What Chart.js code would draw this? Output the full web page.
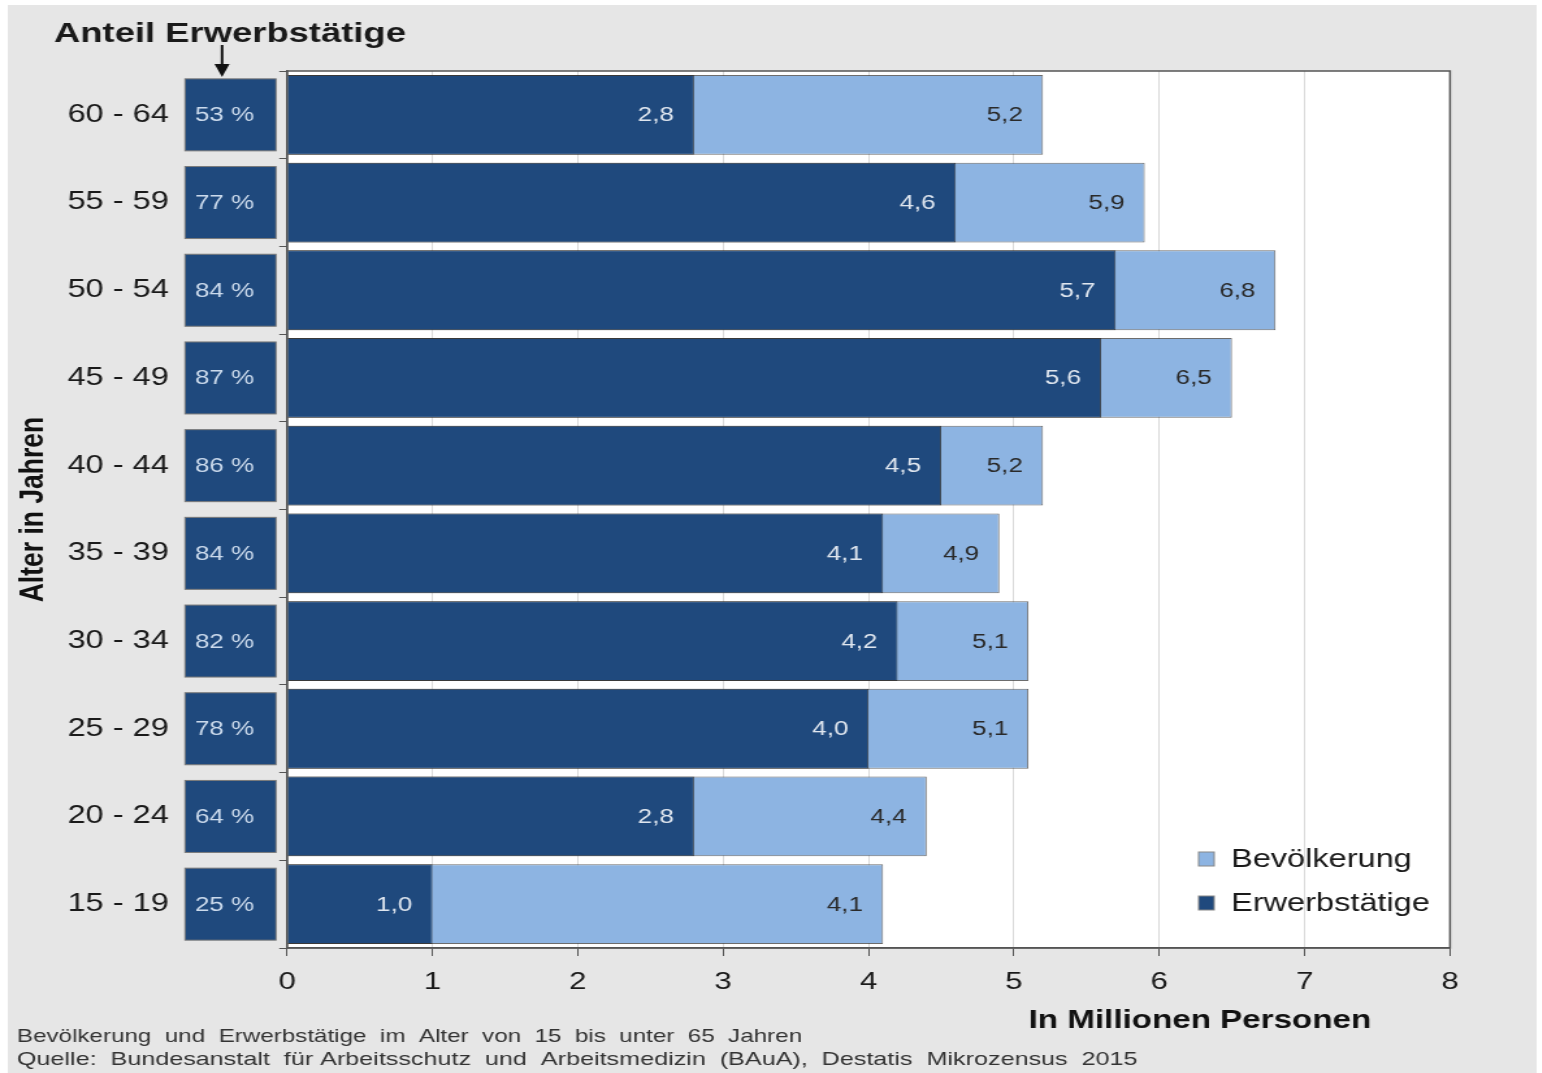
<!DOCTYPE html>
<html lang="de">
<head>
    <meta charset="UTF-8">
    <title>Anteil Erwerbstätige nach Alter</title>
    <script src="https://cdn.jsdelivr.net/npm/chart.js"></script>
    <style>
        body {
            margin: 0;
            background: white;
            overflow: hidden;
        }
        /* the source picture is stretched sideways, so the chart is drawn narrower and scaled */
        #wrap {
            position: absolute;
            left: 0;
            top: 0;
            width: 1186px;
            height: 1073px;
            transform: scaleX(1.3);
            transform-origin: 0 0;
        }
    </style>
</head>
<body>
    <div id="wrap"><canvas id="ageChart"></canvas></div>

    <script>
    const ageGroups = ['60 - 64', '55 - 59', '50 - 54', '45 - 49', '40 - 44', '35 - 39', '30 - 34', '25 - 29', '20 - 24', '15 - 19'];
    const erwerbstaetige = [2.8, 4.6, 5.7, 5.6, 4.5, 4.1, 4.2, 4.0, 2.8, 1.0];
    const bevoelkerung = [5.2, 5.9, 6.8, 6.5, 5.2, 4.9, 5.1, 5.1, 4.4, 4.1];
    const anteil = [53, 77, 84, 87, 86, 84, 82, 78, 64, 25];
    const xTicks = [0, 1, 2, 3, 4, 5, 6, 7, 8];

    const dark = '#1f497d';
    const light = '#8db4e2';
    const fontFamily = "'Liberation Sans', Arial, sans-serif";

    const fmt = v => v.toFixed(1).replace('.', ',');

    // draw a line of text squeezed or widened to a given width
    function fitText(ctx, txt, x, y, width) {
        const w = ctx.measureText(txt).width;
        ctx.save();
        ctx.translate(x, y);
        ctx.scale(width / w, 1);
        ctx.fillText(txt, 0, 0);
        ctx.restore();
    }

    const deco = {
        id: 'deco',
        beforeDraw(chart) {
            const { ctx, chartArea: a } = chart;
            ctx.save();
            ctx.fillStyle = '#e6e6e6';
            ctx.fillRect(6, 5, 1176, 1068);
            ctx.fillStyle = '#ffffff';
            ctx.fillRect(a.left, a.top, a.right - a.left, a.bottom - a.top);
            ctx.restore();
        },
        afterDatasetsDraw(chart) {
            const ctx = chart.ctx;
            ctx.save();
            ctx.font = '20px ' + fontFamily;
            ctx.textAlign = 'right';
            ctx.textBaseline = 'middle';
            // values at the end of each bar
            chart.getDatasetMeta(1).data.forEach((el, i) => {
                ctx.fillStyle = '#2a2a2a';
                ctx.fillText(fmt(bevoelkerung[i]), el.x - 15.5, el.y + 1);
            });
            chart.getDatasetMeta(0).data.forEach((el, i) => {
                ctx.fillStyle = '#dfe6ef';
                ctx.fillText(fmt(erwerbstaetige[i]), el.x - 15.5, el.y + 1);
            });
            ctx.restore();
        },
        afterDraw(chart) {
            const { ctx, chartArea: a } = chart;
            const y = chart.scales.y;
            ctx.save();

            // frame round the plot
            ctx.strokeStyle = '#555';
            ctx.lineWidth = 1.5;
            ctx.strokeRect(a.left, a.top, a.right - a.left, a.bottom - a.top);

            // share boxes left of the axis
            ctx.font = '20px ' + fontFamily;
            ctx.textAlign = 'left';
            ctx.textBaseline = 'middle';
            anteil.forEach((v, i) => {
                const yc = y.getPixelForValue(i);
                ctx.fillStyle = dark;
                ctx.fillRect(142.3, yc - 36, 70, 72);
                ctx.strokeStyle = '#7a7a7a';
                ctx.lineWidth = 1;
                ctx.strokeRect(142.3, yc - 36, 70, 72);
                ctx.fillStyle = '#cbdaec';
                ctx.fillText(v + ' %', 150, yc + 1);
            });

            // heading and arrow
            ctx.fillStyle = '#1a1a1a';
            ctx.font = 'bold 28px ' + fontFamily;
            ctx.fillText('Anteil Erwerbstätige', 41.5, 34);
            ctx.strokeStyle = '#111';
            ctx.lineWidth = 2;
            ctx.beginPath();
            ctx.moveTo(170.8, 45);
            ctx.lineTo(170.8, 66);
            ctx.stroke();
            ctx.fillStyle = '#111';
            ctx.beginPath();
            ctx.moveTo(165, 64);
            ctx.lineTo(176.6, 64);
            ctx.lineTo(170.8, 77);
            ctx.closePath();
            ctx.fill();

            // legend inside the plot
            const legendItems = [['Bevölkerung', light, 859], ['Erwerbstätige', dark, 903]];
            ctx.font = '25px ' + fontFamily;
            legendItems.forEach(([txt, col, ly]) => {
                ctx.fillStyle = col;
                ctx.fillRect(922, ly - 7, 12, 14);
                ctx.strokeStyle = '#888';
                ctx.lineWidth = 1;
                ctx.strokeRect(922, ly - 7, 12, 14);
                ctx.fillStyle = '#1a1a1a';
                ctx.fillText(txt, 947, ly + 1);
            });

            // x axis title
            ctx.font = 'bold 25.5px ' + fontFamily;
            ctx.textAlign = 'center';
            ctx.fillStyle = '#111';
            ctx.fillText('In Millionen Personen', 923, 1021);

            // footnote
            ctx.textAlign = 'left';
            ctx.font = '18.5px ' + fontFamily;
            ctx.fillStyle = '#333';
            fitText(ctx, 'Bevölkerung  und  Erwerbstätige  im  Alter  von  15  bis  unter  65  Jahren', 13, 1037, 604);
            fitText(ctx, 'Quelle:  Bundesanstalt  für Arbeitsschutz  und  Arbeitsmedizin  (BAuA),  Destatis  Mikrozensus  2015', 13, 1060, 862);

            ctx.restore();
        }
    };

    const ctx = document.getElementById('ageChart').getContext('2d');
    new Chart(ctx, {
        type: 'bar',
        data: {
            labels: ageGroups,
            datasets: [{
                label: 'Erwerbstätige',
                data: erwerbstaetige,
                backgroundColor: dark,
                borderColor: 'rgba(40, 40, 40, 0.75)',
                borderWidth: 1,
                order: 0
            }, {
                label: 'Bevölkerung',
                data: bevoelkerung,
                backgroundColor: light,
                borderColor: 'rgba(60, 60, 60, 0.75)',
                borderWidth: 1,
                order: 1
            }]
        },
        options: {
            indexAxis: 'y',
            responsive: true,
            maintainAspectRatio: false,
            animation: false,
            categoryPercentage: 0.91,
            barPercentage: 1.0,
            layout: {
                padding: { left: 6, top: 71, right: 70.6, bottom: 0 }
            },
            plugins: {
                legend: { display: false },
                tooltip: { enabled: false }
            },
            scales: {
                x: {
                    min: 0,
                    max: 8,
                    afterBuildTicks: s => { s.ticks = xTicks.map(v => ({ value: v })); },
                    afterFit: s => { s.height = 125; },
                    ticks: {
                        color: '#1a1a1a',
                        padding: 12,
                        font: { size: 24, family: fontFamily }
                    },
                    grid: {
                        color: '#dadada',
                        tickColor: '#555',
                        tickLength: 8
                    },
                    border: { color: '#555', width: 1.5 }
                },
                y: {
                    stacked: true,
                    // fixed width; the big label padding must not push the plot down
                    afterFit: s => { s.width = 214.8; s.paddingTop = 0; s.paddingBottom = 0; },
                    ticks: {
                        color: '#1a1a1a',
                        padding: 85,
                        font: { size: 25, family: fontFamily }
                    },
                    grid: {
                        offset: true,
                        drawOnChartArea: false,
                        tickColor: '#555',
                        tickLength: 6
                    },
                    border: { color: '#555', width: 1.5 },
                    title: {
                        display: true,
                        text: 'Alter in Jahren',
                        color: '#111',
                        padding: { top: 4, bottom: 0 },
                        font: { size: 26.5, weight: 'bold', family: fontFamily }
                    }
                }
            }
        },
        plugins: [deco]
    });
    </script>
</body>
</html>
